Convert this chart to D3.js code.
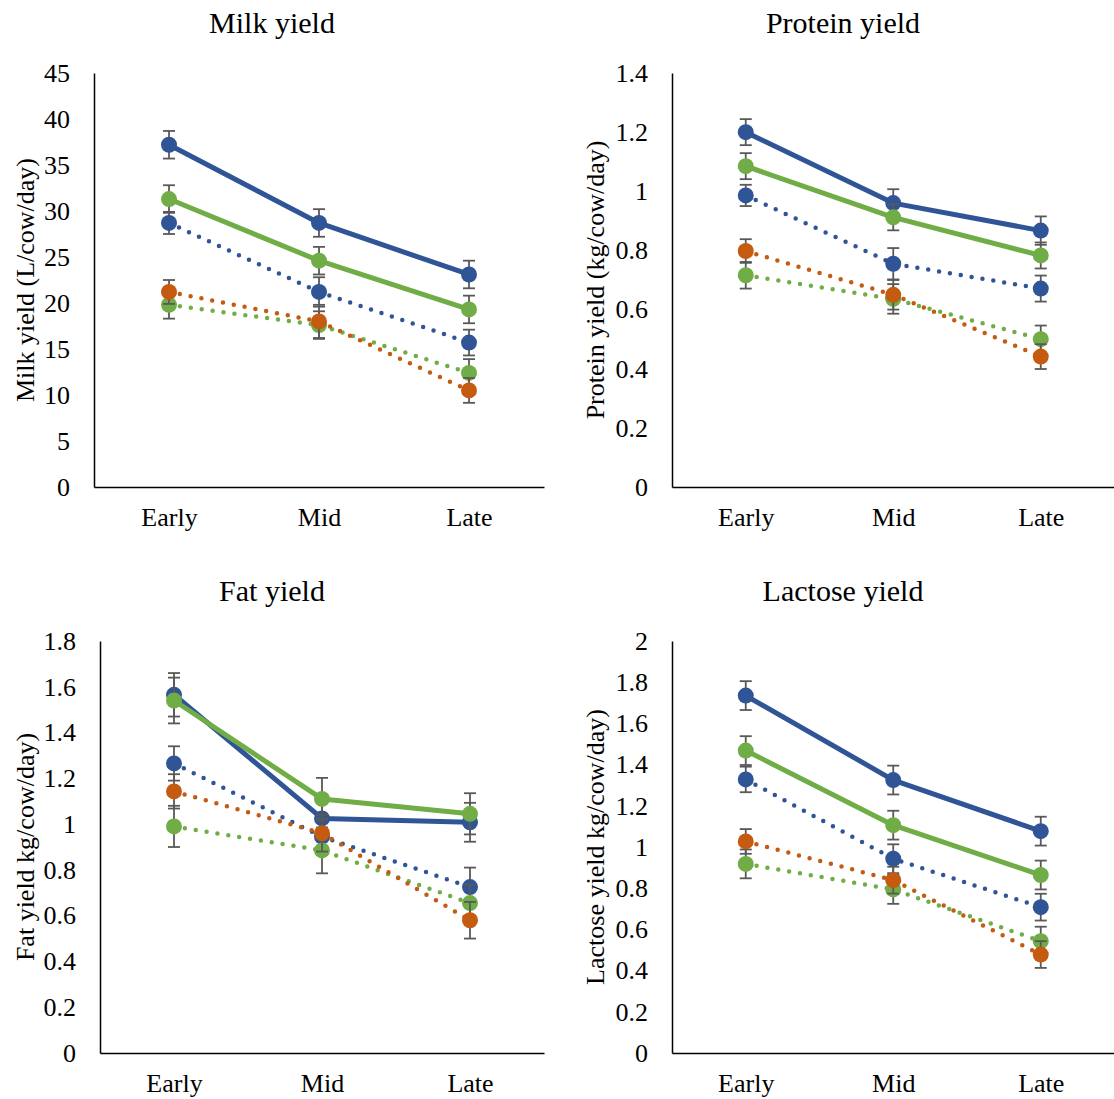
<!DOCTYPE html>
<html>
<head>
<meta charset="utf-8">
<script src="https://cdn.jsdelivr.net/npm/d3@7"></script>
<style>
  body { margin: 0; background: #fff; }
</style>
</head>
<body>
<script>
// lactation stages
var stages = ["Early", "Mid", "Late"]

// series order: solid blue, solid green, dotted blue, dotted green, dotted orange
var seriesColors = ["#2F5597", "#70AD47", "#2F5597", "#70AD47", "#C55A11"]
var seriesDotted = [false, false, true, true, true]

var milkTicks = [0, 5, 10, 15, 20, 25, 30, 35, 40, 45]
var milkValues = [
    [37.2, 28.7, 23.1],
    [31.3, 24.6, 19.3],
    [28.7, 21.2, 15.7],
    [19.8, 17.6, 12.4],
    [21.2, 18.0, 10.5]
]
var milkErrors = [
    [1.5, 1.5, 1.5],
    [1.5, 1.5, 1.5],
    [1.2, 1.6, 1.4],
    [1.5, 1.5, 1.5],
    [1.3, 1.8, 1.35]
]

var proteinTicks = [0, 0.2, 0.4, 0.6, 0.8, 1, 1.2, 1.4]
var proteinValues = [
    [1.20, 0.96, 0.867],
    [1.085, 0.912, 0.783],
    [0.986, 0.755, 0.671],
    [0.716, 0.636, 0.50],
    [0.798, 0.65, 0.441]
]
var proteinErrors = [
    [0.044, 0.047, 0.048],
    [0.044, 0.044, 0.044],
    [0.036, 0.053, 0.044],
    [0.045, 0.05, 0.046],
    [0.04, 0.05, 0.042]
]

var fatTicks = [0, 0.2, 0.4, 0.6, 0.8, 1, 1.2, 1.4, 1.6, 1.8]
var fatValues = [
    [1.565, 1.025, 1.008],
    [1.54, 1.11, 1.045],
    [1.265, 0.945, 0.725],
    [0.99, 0.885, 0.655],
    [1.143, 0.96, 0.58]
]
var fatErrors = [
    [0.095, 0.08, 0.085],
    [0.1, 0.092, 0.09],
    [0.075, 0.08, 0.085],
    [0.09, 0.1, 0.08],
    [0.075, 0.08, 0.08]
]

var lactoseTicks = [0, 0.2, 0.4, 0.6, 0.8, 1, 1.2, 1.4, 1.6, 1.8, 2]
var lactoseValues = [
    [1.735, 1.325, 1.077],
    [1.468, 1.106, 0.864],
    [1.328, 0.943, 0.708],
    [0.918, 0.794, 0.543],
    [1.027, 0.839, 0.478]
]
var lactoseErrors = [
    [0.07, 0.07, 0.07],
    [0.07, 0.07, 0.07],
    [0.062, 0.07, 0.065],
    [0.07, 0.07, 0.07],
    [0.06, 0.065, 0.065]
]

var panels = [
    { title: "Milk yield", yLabel: "Milk yield (L/cow/day)", ticks: milkTicks, values: milkValues, errors: milkErrors,
      left: 94, right: 544, top: 73, bottom: 487, titleX: 272, labelX: 25 },
    { title: "Protein yield", yLabel: "Protein yield (kg/cow/day)", ticks: proteinTicks, values: proteinValues, errors: proteinErrors,
      left: 672, right: 1114.5, top: 73, bottom: 487, titleX: 843, labelX: 595 },
    { title: "Fat yield", yLabel: "Fat yield kg/cow/day)", ticks: fatTicks, values: fatValues, errors: fatErrors,
      left: 100, right: 544, top: 641, bottom: 1053, titleX: 272, labelX: 25 },
    { title: "Lactose yield", yLabel: "Lactose yield kg/cow/day)", ticks: lactoseTicks, values: lactoseValues, errors: lactoseErrors,
      left: 672, right: 1114.5, top: 641, bottom: 1053, titleX: 843, labelX: 595 }
]

var width = 1114
var height = 1099
var serif = "'Liberation Serif', 'Times New Roman', Times, serif"

var svg = d3.select("body")
    .append("svg")
    .attr("width", width)
    .attr("height", height)
    .style("font-family", serif)

panels.forEach(drawPanel)

function drawPanel(p) {
    var g = svg.append("g")

    var x = d3.scalePoint()
        .domain(stages)
        .range([p.left, p.right])
        .padding(0.5)

    var y = d3.scaleLinear()
        .domain([0, d3.max(p.ticks)])
        .range([p.bottom, p.top])

    // title
    g.append("text")
        .attr("x", p.titleX)
        .attr("y", p.top - 40)
        .attr("text-anchor", "middle")
        .style("font-family", serif)
        .style("font-size", "30px")
        .text(p.title)

    // y axis title
    g.append("text")
        .attr("transform", "translate(" + p.labelX + "," + ((p.top + p.bottom) / 2) + ") rotate(-90)")
        .attr("text-anchor", "middle")
        .attr("dy", "0.35em")
        .style("font-family", serif)
        .style("font-size", "26px")
        .text(p.yLabel)

    var yAxis = g.append("g")
        .attr("transform", "translate(" + p.left + ",0)")
        .call(d3.axisLeft(y).tickValues(p.ticks).tickFormat(d3.format("~g")).tickSize(0).tickPadding(24))
    yAxis.attr("font-family", null).attr("font-size", null)
    yAxis.select(".domain").attr("stroke", "#000").attr("stroke-width", 1.5)
    yAxis.selectAll("text").style("font-family", serif).style("font-size", "26px").attr("fill", "#000")

    var xAxis = g.append("g")
        .attr("transform", "translate(0," + p.bottom + ")")
        .call(d3.axisBottom(x).tickSize(0).tickPadding(21))
    xAxis.attr("font-family", null).attr("font-size", null)
    xAxis.select(".domain").attr("stroke", "#000").attr("stroke-width", 1.5)
    xAxis.selectAll("text").style("font-family", serif).style("font-size", "26px").attr("fill", "#000")

    var line = d3.line()
        .x(function (d, i) { return x(stages[i]) })
        .y(function (d) { return y(d) })

    p.values.forEach(function (vals, s) {
        var color = seriesColors[s]
        var sg = g.append("g")

        sg.append("path")
            .datum(vals)
            .attr("d", line)
            .attr("fill", "none")
            .attr("stroke", color)
            .attr("stroke-width", seriesDotted[s] ? 4.5 : 5)
            .attr("stroke-linecap", "round")
            .attr("stroke-linejoin", "round")
            .attr("stroke-dasharray", seriesDotted[s] ? "0 11" : null)

        var errs = p.errors[s]
        var eb = sg.selectAll(".err")
            .data(vals)
            .enter()
            .append("g")
            .attr("class", "err")
            .attr("stroke", "#595959")
            .attr("stroke-width", 1.8)

        eb.append("line")
            .attr("x1", function (d, i) { return x(stages[i]) })
            .attr("x2", function (d, i) { return x(stages[i]) })
            .attr("y1", function (d, i) { return y(d + errs[i]) })
            .attr("y2", function (d, i) { return y(d - errs[i]) })
        eb.append("line")
            .attr("x1", function (d, i) { return x(stages[i]) - 6 })
            .attr("x2", function (d, i) { return x(stages[i]) + 6 })
            .attr("y1", function (d, i) { return y(d + errs[i]) })
            .attr("y2", function (d, i) { return y(d + errs[i]) })
        eb.append("line")
            .attr("x1", function (d, i) { return x(stages[i]) - 6 })
            .attr("x2", function (d, i) { return x(stages[i]) + 6 })
            .attr("y1", function (d, i) { return y(d - errs[i]) })
            .attr("y2", function (d, i) { return y(d - errs[i]) })

        sg.selectAll(".marker")
            .data(vals)
            .enter()
            .append("circle")
            .attr("class", "marker")
            .attr("cx", function (d, i) { return x(stages[i]) })
            .attr("cy", function (d) { return y(d) })
            .attr("r", 8)
            .attr("fill", color)
    })
}
</script>
</body>
</html>
